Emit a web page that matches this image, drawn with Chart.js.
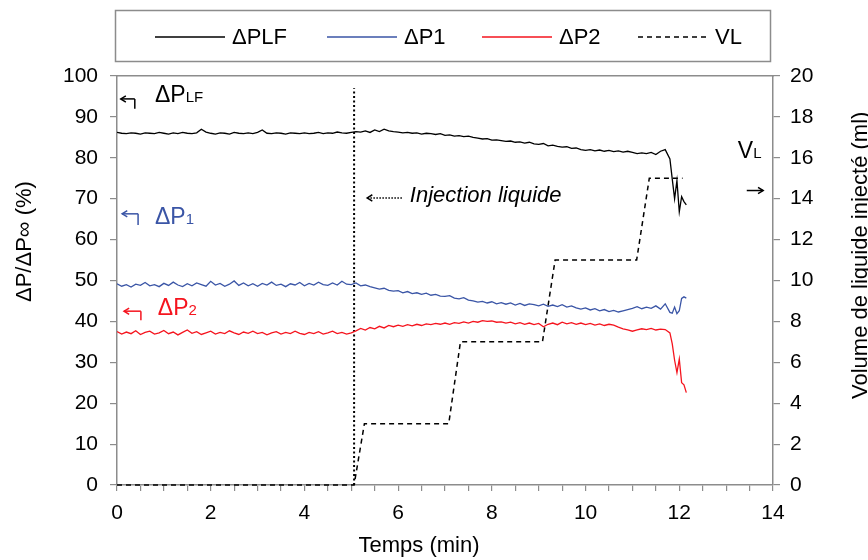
<!DOCTYPE html>
<html lang="fr">
<head>
<meta charset="UTF-8">
<title>Injection liquide</title>
<style>
  body { margin: 0; background: #fff; }
  #wrap { width: 868px; height: 560px; }
</style>
</head>
<body>
<div id="wrap"><canvas id="myChart"></canvas></div>

<script src="https://cdn.jsdelivr.net/npm/chart.js"></script>
<script>
// temps (min) : pas de 0.1 min jusqu'a 11.8, puis plus fin a la fin
const tempsMin = Array.from({length: 119}, (_, i) => i / 10)
  .concat([11.85, 11.9, 11.95, 12.0, 12.05, 12.1, 12.15]);

// dP/dPinf (%)
const dpLF = [
  86.2, 86.0, 85.9, 86.1, 86.0, 85.8, 86.1, 86.0, 85.9, 86.2,
  86.0, 85.8, 86.1, 85.9, 86.2, 86.0, 85.9, 86.1, 87.0, 86.3,
  86.0, 85.8, 86.1, 86.0, 85.8, 86.2, 86.0, 85.9, 86.1, 85.9,
  86.2, 86.8, 86.0, 85.9, 86.1, 86.0, 85.8, 86.1, 86.0, 85.9,
  86.1, 85.9, 86.0, 86.2, 85.9, 86.1, 86.0, 86.3, 86.1, 86.0,
  86.2, 86.4, 86.3, 86.6, 86.2, 86.8, 86.4, 87.0, 86.6, 86.4,
  86.3, 86.1, 86.2, 86.0, 86.1, 85.8, 86.0, 85.9, 85.7, 85.9,
  85.5, 85.6, 85.3, 85.4, 85.2, 85.3, 85.0, 84.8, 84.6, 84.7,
  84.3, 84.4, 84.2, 84.0, 84.1, 83.8, 83.9, 83.6, 83.8, 83.4,
  83.3, 83.5, 82.9, 83.1, 82.8, 82.6, 82.7, 82.3, 82.4, 82.0,
  81.8, 82.0, 81.7, 81.9, 81.6, 81.8, 81.5, 81.7, 81.4, 81.6,
  81.3, 81.0, 81.2, 81.0, 81.3, 80.8, 81.6, 82.0, 79.7,
  74.8, 70.0, 74.4, 66.8, 70.5, 69.3, 68.5
];
const dp1 = [
  49.2, 48.6, 49.0, 48.4, 49.1, 48.8, 49.5, 48.7, 49.0, 48.5,
  49.3, 48.8, 49.6, 48.9, 48.5, 49.2, 48.7, 49.4, 49.0, 48.6,
  49.8, 48.9, 49.3, 48.6, 49.1, 49.9, 48.8, 49.4, 48.7, 49.2,
  48.6, 49.3, 48.9, 49.6, 48.8, 49.1, 48.5, 49.2, 48.9, 49.5,
  48.7, 49.3, 48.9, 49.6, 49.0, 48.8, 49.4, 48.9, 49.8, 49.1,
  49.0, 49.4, 48.7, 48.9, 48.5, 48.2, 47.9, 48.1, 47.6, 47.4,
  47.5, 47.0, 47.3, 46.8, 47.0, 46.6, 46.9, 46.4, 46.6, 46.2,
  46.1, 46.3, 45.7, 45.5, 45.8, 45.2, 45.0, 44.7, 44.9, 44.5,
  44.8, 44.3, 44.6, 44.2, 44.5, 44.0, 44.4, 43.9, 44.3, 44.1,
  43.8, 44.2, 43.7, 44.0, 43.6, 44.1, 43.5, 43.8, 43.3, 43.0,
  43.3, 42.8, 43.1, 42.6, 42.9, 42.4, 42.7, 42.3, 42.6, 42.9,
  43.2, 43.6, 43.1, 43.5, 43.2, 43.8, 43.0, 44.3, 42.2,
  42.0, 43.5, 41.9, 42.6, 45.6, 46.0, 45.7
];
const dp2 = [
  37.5, 36.9, 37.4, 37.0, 37.7, 36.8, 37.3, 37.6, 36.9, 37.2,
  37.8, 37.0, 37.4, 36.7, 37.3, 37.9, 37.1, 37.5, 36.8, 37.2,
  37.6, 36.9, 37.3, 37.0, 37.7, 37.2, 36.8, 37.4, 37.1, 37.6,
  37.0, 37.3, 36.7, 37.2, 37.5, 36.9, 37.3, 37.0, 37.6, 37.1,
  36.8, 37.3, 37.0, 37.5, 36.9, 37.2, 37.6, 37.0, 37.3, 36.9,
  37.2, 37.7, 38.3, 37.9, 38.5, 38.2, 38.8, 38.4, 39.0, 38.7,
  39.1, 38.8, 39.2, 38.9, 39.3, 39.0, 39.4, 39.2, 39.5, 39.3,
  39.6, 39.3, 39.7, 39.5, 39.9, 39.6, 40.0, 39.8, 40.2, 40.0,
  40.1, 39.8, 39.9, 39.6, 39.8, 39.4, 39.7, 39.3, 39.6, 39.2,
  39.5, 38.7, 39.3, 39.6, 39.2, 39.8, 39.4, 39.7, 39.3, 39.6,
  39.2, 39.5, 39.1, 39.4, 39.0, 39.3, 39.1, 38.6, 38.2, 37.9,
  37.6, 37.9, 38.2, 38.0, 38.3, 37.9, 38.1, 38.0, 37.2,
  34.5, 30.5, 27.5, 30.8, 25.0, 24.5, 22.6
];

// volume de liquide injecte (ml), axe de droite
const vlTemps  = [0, 5.06, 5.28, 7.08, 7.33, 9.08, 9.35, 11.09, 11.36, 12.07];
const vlVolume = [0, 0, 3, 3, 7, 7, 11, 11, 15, 15];

// debut de l'injection (min) et hauteur du trait pointille (%)
const injectionTemps = 5.06;
const injectionHaut = 97;

const seriesLabels = ['ΔPLF', 'ΔP1', 'ΔP2', 'VL'];
const xTicks = [0, 2, 4, 6, 8, 10, 12, 14];
const xTitre = 'Temps (min)';
const yTitre = 'ΔP/ΔP∞ (%)';
const y2Titre = 'Volume de liquide injecté (ml)';

const FONT = "'Liberation Sans', Arial, sans-serif";
const GRIS = '#8c8c8c';
const BLEU = '#3a55a6';
const ROUGE = '#f5141e';

function pts(xs, ys) { return xs.map((x, i) => ({x: x, y: ys[i]})); }

// fleche simple avec pointe ouverte en (x2,y2)
function fleche(ctx, x1, y1, x2, y2, color, dash) {
  ctx.save();
  ctx.strokeStyle = color;
  ctx.lineWidth = 1.5;
  ctx.setLineDash(dash || []);
  ctx.beginPath(); ctx.moveTo(x1, y1); ctx.lineTo(x2, y2); ctx.stroke();
  ctx.setLineDash([]);
  const a = Math.atan2(y2 - y1, x2 - x1);
  ctx.beginPath();
  ctx.moveTo(x2 - 6 * Math.cos(a - 0.55), y2 - 6 * Math.sin(a - 0.55));
  ctx.lineTo(x2, y2);
  ctx.lineTo(x2 - 6 * Math.cos(a + 0.55), y2 - 6 * Math.sin(a + 0.55));
  ctx.stroke();
  ctx.restore();
}

// texte avec un indice plus petit sur la meme ligne de base
function texteIndice(ctx, x, y, base, ind, color) {
  ctx.save();
  ctx.fillStyle = color;
  ctx.textBaseline = 'alphabetic';
  ctx.textAlign = 'left';
  ctx.font = '23px ' + FONT;
  ctx.fillText(base, x, y);
  const w = ctx.measureText(base).width;
  ctx.font = '15px ' + FONT;
  ctx.fillText(ind, x + w, y);
  ctx.restore();
}

// titre vertical lu de bas en haut
function titreVertical(ctx, text, x, yBas) {
  ctx.save();
  ctx.translate(x, yBas);
  ctx.rotate(-Math.PI / 2);
  ctx.fillStyle = '#000';
  ctx.font = '22px ' + FONT;
  ctx.textBaseline = 'alphabetic';
  ctx.textAlign = 'left';
  ctx.fillText(text, 0, 0);
  ctx.restore();
}

const annotations = {
  id: 'annotations',
  afterDatasetsDraw(chart) {
    const ctx = chart.ctx;
    const X = v => chart.scales.x.getPixelForValue(v);
    const Y = v => chart.scales.y.getPixelForValue(v);
    const Y2 = v => chart.scales.y2.getPixelForValue(v);

    // fleches en crochet vers l'axe de gauche
    const crochets = [
      {t0: 0.08, t1: 0.38, v: 94.4, vb: 92.0, tt: 0.81, vt: 93.6, base: 'ΔP', ind: 'LF', c: '#000'},
      {t0: 0.11, t1: 0.45, v: 66.3, vb: 63.6, tt: 0.81, vt: 63.8, base: 'ΔP', ind: '1', c: BLEU},
      {t0: 0.15, t1: 0.51, v: 42.5, vb: 40.3, tt: 0.87, vt: 41.6, base: 'ΔP', ind: '2', c: ROUGE}
    ];
    crochets.forEach(a => {
      ctx.save();
      ctx.strokeStyle = a.c; ctx.lineWidth = 1.5;
      ctx.beginPath(); ctx.moveTo(X(a.t1), Y(a.v)); ctx.lineTo(X(a.t1), Y(a.vb)); ctx.stroke();
      ctx.restore();
      fleche(ctx, X(a.t1), Y(a.v), X(a.t0), Y(a.v), a.c);
      texteIndice(ctx, X(a.tt), Y(a.vt), a.base, a.ind, a.c);
    });

    // injection liquide
    fleche(ctx, X(6.08), Y(70.2), X(5.34), Y(70.2), '#000', [1.5, 1.5]);
    ctx.save();
    ctx.fillStyle = '#000';
    ctx.font = 'italic 22px ' + FONT;
    ctx.textBaseline = 'alphabetic';
    ctx.fillText('Injection liquide', X(6.25), Y(69.2));
    ctx.restore();

    // VL vers l'axe de droite
    texteIndice(ctx, X(13.25), Y2(16.0), 'V', 'L', '#000');
    fleche(ctx, X(13.44), Y2(14.4), X(13.79), Y2(14.4), '#000');
  },
  afterDraw(chart) {
    const ctx = chart.ctx;
    // titres des axes
    ctx.save();
    ctx.fillStyle = '#000';
    ctx.font = '22px ' + FONT;
    ctx.textAlign = 'center';
    ctx.textBaseline = 'alphabetic';
    ctx.fillText(xTitre, 419, 552);
    ctx.restore();
    titreVertical(ctx, yTitre, 31, 302);
    titreVertical(ctx, y2Titre, 867, 399);

    // legende encadree en haut
    ctx.save();
    ctx.strokeStyle = GRIS; ctx.lineWidth = 1.5;
    ctx.strokeRect(115.5, 10.5, 655, 51);
    const xs = [155, 327, 482, 638];
    const y = 37;
    ctx.font = '22px ' + FONT;
    ctx.textBaseline = 'middle';
    ctx.fillStyle = '#000';
    xs.forEach((x0, i) => {
      const ds = chart.data.datasets[i];
      ctx.strokeStyle = ds.borderColor;
      ctx.lineWidth = 1.5;
      ctx.setLineDash(ds.borderDash || []);
      ctx.beginPath(); ctx.moveTo(x0, y); ctx.lineTo(x0 + 70, y); ctx.stroke();
      ctx.setLineDash([]);
      ctx.fillText(ds.label, x0 + 77, y + 1);
    });
    ctx.restore();
  }
};

const ctx = document.getElementById('myChart');

new Chart(ctx, {
  type: 'line',
  data: {
    datasets: [
      {label: seriesLabels[0], data: pts(tempsMin, dpLF), borderColor: '#000', borderWidth: 1.3, yAxisID: 'y'},
      {label: seriesLabels[1], data: pts(tempsMin, dp1), borderColor: BLEU, borderWidth: 1.3, yAxisID: 'y'},
      {label: seriesLabels[2], data: pts(tempsMin, dp2), borderColor: ROUGE, borderWidth: 1.3, yAxisID: 'y'},
      {label: seriesLabels[3], data: pts(vlTemps, vlVolume), borderColor: '#000', borderWidth: 1.5,
        borderDash: [5, 4], yAxisID: 'y2', clip: 4},
      {label: 'injection', data: [{x: injectionTemps, y: 0}, {x: injectionTemps, y: injectionHaut}],
        borderColor: '#000', borderWidth: 2, borderDash: [2, 2.5], yAxisID: 'y'}
    ]
  },
  options: {
    responsive: true,
    maintainAspectRatio: false,
    animation: false,
    parsing: false,
    elements: { point: { radius: 0 }, line: { tension: 0, fill: false } },
    layout: { padding: { top: 76, left: 0, right: 0, bottom: 0 } },
    plugins: { legend: { display: false }, tooltip: { enabled: false } },
    scales: {
      x: {
        type: 'linear', min: 0, max: 14,
        afterFit(s) { s.height = 75; },
        grid: { drawOnChartArea: false, tickLength: 6, color: GRIS, lineWidth: 1.2 },
        border: { color: GRIS, width: 1.5 },
        ticks: {
          stepSize: 0.5, autoSkip: false, maxRotation: 0, padding: 10,
          color: '#000', font: { family: FONT, size: 21 },
          callback: v => xTicks.includes(v) ? v : ''
        }
      },
      x2: {
        type: 'linear', position: 'top', min: 0, max: 14,
        afterFit(s) { s.height = 0; },
        grid: { drawOnChartArea: false, drawTicks: false },
        border: { color: GRIS, width: 1.5 },
        ticks: { display: false }
      },
      y: {
        type: 'linear', position: 'left', min: 0, max: 100,
        afterFit(s) { s.width = 117; },
        grid: { drawOnChartArea: false, tickLength: 7, color: GRIS, lineWidth: 1.2 },
        border: { color: GRIS, width: 1.5 },
        ticks: { stepSize: 10, padding: 12, color: '#000', font: { family: FONT, size: 21 } }
      },
      y2: {
        type: 'linear', position: 'right', min: 0, max: 20,
        afterFit(s) { s.width = 95; },
        grid: { drawOnChartArea: false, tickLength: 7, color: GRIS, lineWidth: 1.2 },
        border: { color: GRIS, width: 1.5 },
        ticks: { stepSize: 2, padding: 10, color: '#000', font: { family: FONT, size: 21 } }
      }
    }
  },
  plugins: [annotations]
});
</script>
</body>
</html>
